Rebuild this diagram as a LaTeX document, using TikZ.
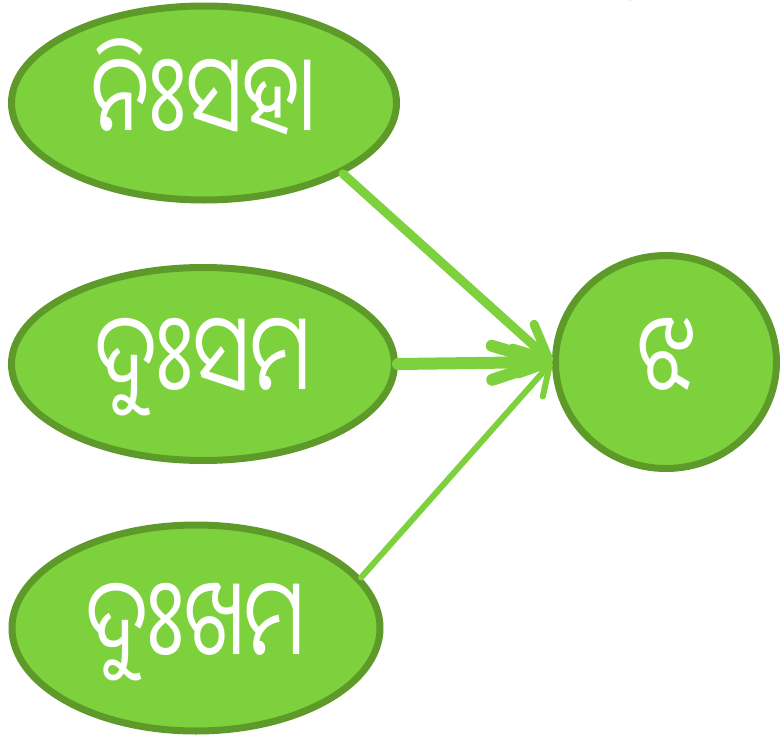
\documentclass[tikz,border=0pt]{standalone}
\usepackage{fontspec}
\newfontfamily\oriya[Script=Oriya,FakeStretch=0.76]{Noto Sans Oriya UI}
\usetikzlibrary{shapes.geometric,arrows.meta}
\definecolor{fillg}{HTML}{7DD13C}
\definecolor{edgeg}{HTML}{5E9A2A}
\definecolor{titlered}{HTML}{FF0000}
\begin{document}
\begin{tikzpicture}[x=1pt,y=-1pt,
  blob/.style={ellipse, draw=edgeg, fill=fillg, line width=7pt, inner sep=0pt, text=white, font=\oriya\fontsize{107}{110}\selectfont},
  conn/.style={draw=fillg, line cap=round},
]
\useasboundingbox (0,0) rectangle (780,739);
\node[text=titlered, font=\oriya\fontsize{107}{110}\selectfont, anchor=base, inner sep=0pt] (title) at (605,6) {ଉଦାହରଣ};
\node[blob, minimum width=385pt, minimum height=194pt, text height=74pt, text depth=0pt] (e1) at (204,103) {ନିଃସହା};
\node[blob, minimum width=383pt, minimum height=193pt, text height=70pt, text depth=0pt] (e2) at (203,364) {ଦୁଃସମ};
\node[blob, minimum width=368pt, minimum height=206pt, text height=72pt, text depth=0pt] (e3) at (196,628) {ଦୁଃଖମ};
\node[blob, minimum width=221pt, minimum height=213pt, text height=74pt, text depth=0pt] (c) at (666,362) {ଝ};
\draw[conn, line width=9pt, -{Straight Barb[length=34pt,width=32pt,round]}] (e1.-27) -- (c.west);
\draw[conn, line width=12pt, -{Straight Barb[length=54pt,width=34pt,round]}] (e2.east) -- (c.west);
\draw[conn, line width=6pt, -{Straight Barb[length=29pt,width=32pt,round]}] (e3.17) -- (c.west);
\end{tikzpicture}
\end{document}
